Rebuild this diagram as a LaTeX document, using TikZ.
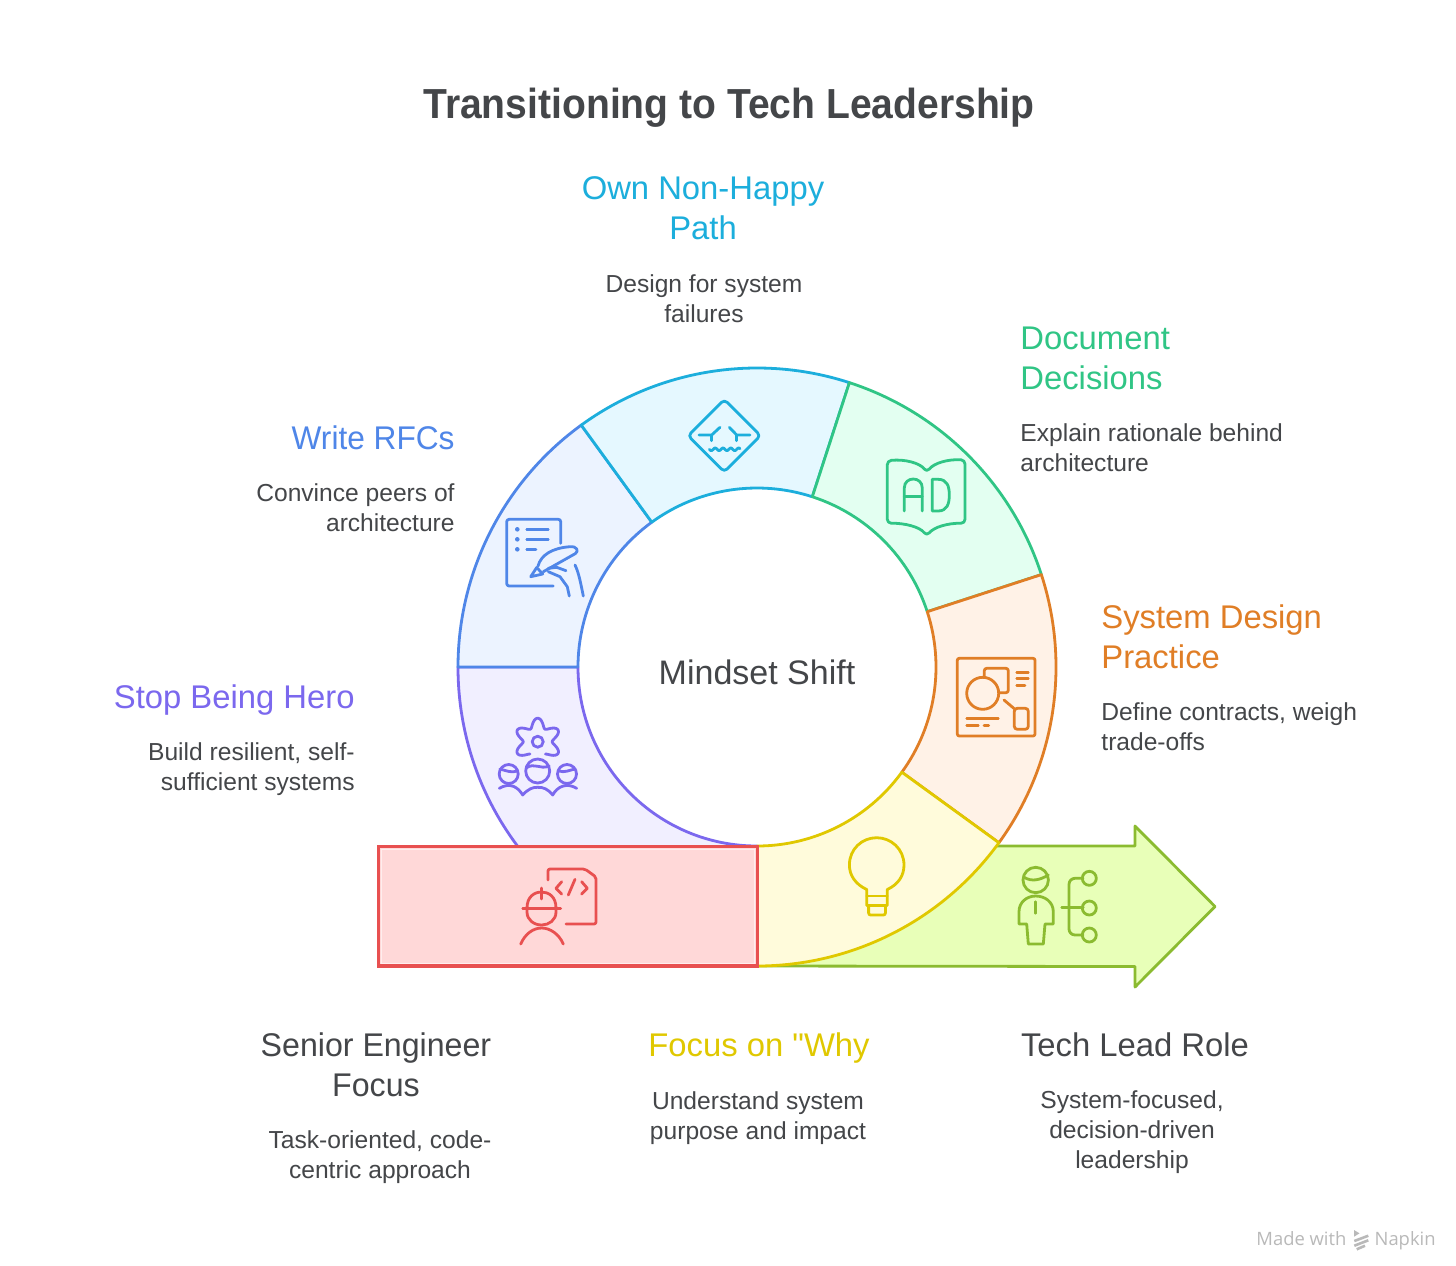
\documentclass[tikz,border=0pt]{standalone}
\usepackage{fontspec}
\setmainfont{Liberation Sans}
\newfontfamily\markfont{Open Sans}
\newfontfamily\qfont{Liberation Sans}
\newfontfamily\titlefam[FakeStretch=0.93]{Liberation Sans}
\newfontfamily\narrowfam[FakeStretch=0.965]{Liberation Sans}
\newfontfamily\slimfam[FakeStretch=0.98]{Liberation Sans}
\definecolor{inkgrey}{HTML}{444649}
\definecolor{markgrey}{HTML}{B9B9B9}
\definecolor{herolin}{HTML}{7B68EE}\definecolor{herofil}{HTML}{F1EFFF}
\definecolor{rfclin}{HTML}{4F86E8}\definecolor{rfcfil}{HTML}{ECF3FF}
\definecolor{ownlin}{HTML}{1CAEDC}\definecolor{ownfil}{HTML}{E5F8FF}
\definecolor{doclin}{HTML}{30C585}\definecolor{docfil}{HTML}{E3FFF1}
\definecolor{syslin}{HTML}{E07E26}\definecolor{sysfil}{HTML}{FFF2E7}
\definecolor{whylin}{HTML}{E0C800}\definecolor{whyfil}{HTML}{FFFBDB}
\definecolor{redlin}{HTML}{E85050}\definecolor{redfil}{HTML}{FFD8D8}
\definecolor{grnlin}{HTML}{8BBB30}\definecolor{grnfil}{HTML}{E8FFB8}
\newcommand\ringseg[4]{\filldraw[draw=#3,fill=#4,ringline]
  ({757+299*cos(#1)},{667-299*sin(#1)}) arc[start angle=#1,end angle=#2,radius=149.5pt]
  -- ({757+179*cos(#2)},{667-179*sin(#2)}) arc[start angle=#2,end angle=#1,radius=89.5pt] -- cycle;}
\tikzset{
  ringline/.style={line width=1.4pt,line join=round},
  iconline/.style={line width=1.4pt,line cap=round,line join=round},
  headtxt/.style={inner sep=0pt,font=\fontsize{16.4}{20}\selectfont},
  bodytxt/.style={inner sep=0pt,text=inkgrey,font=\fontsize{12.3}{15}\selectfont},
}
\begin{document}
\begin{tikzpicture}[x=0.5pt,y=-0.5pt]
\useasboundingbox (0,0) rectangle (1456,1265);
\fill[white] (0,0) rectangle (1456,1265);
% arrow
\filldraw[draw=grnlin,fill=grnfil,ringline] (757,966) -- (990,846) -- (1135,846) -- (1135,826) -- (1215,906.5) -- (1135,987) -- (1135,966.5) -- cycle;
% ring
\ringseg{180}{270}{herolin}{herofil}
\ringseg{126}{180}{rfclin}{rfcfil}
\ringseg{72}{126}{ownlin}{ownfil}
\ringseg{18}{72}{doclin}{docfil}
\ringseg{-36}{18}{syslin}{sysfil}
\ringseg{-90}{-36}{whylin}{whyfil}
% red box
\filldraw[draw=redlin,fill=redfil,line width=1.8pt] (378.5,846.5) rectangle (757.5,966);
\draw[draw=white,opacity=.55,line width=.4pt] (381.5,849.5) rectangle (754.5,963);
% hero icon
\begin{scope}[herolin,iconline]
\draw plot[domain=-58:238,samples=90,smooth] ({537.7+(19+4.5*cos(6*(\x-90)))*cos(\x)},{741.7-(19+4.5*cos(6*(\x-90)))*sin(\x)});
\draw (537.7,741.7) circle[radius=5.5];
\draw (537.7,771) circle[radius=12];
\draw (508.7,774) circle[radius=9.5];
\draw (567,774) circle[radius=9.5];
\draw (526,768) .. controls (535,762) and (540,770) .. (549,766);
\draw (500,769) .. controls (507,771) and (512,773) .. (517,771);
\draw (559,771) .. controls (564,773) and (570,770) .. (575,769);
\draw (499.3,788.3) .. controls (510,782) and (518,787) .. (522.7,795) .. controls (528,789) and (533,787) .. (537.7,787.3) .. controls (543,787) and (548,789) .. (552.7,795) .. controls (557,787) and (566,782) .. (576.7,788.3);
\end{scope}
% red icon
\begin{scope}[redlin,iconline]
\draw[rounded corners=1pt] (548,880) -- (548,869) -- (585,869) -- (596,877) -- (596,924) -- (566,924);
\draw (561.7,881.7) -- (556,888.3) -- (561.7,894);
\draw (575,879.3) -- (568.3,895);
\draw (581.7,881.7) -- (587.3,888.3) -- (581.7,894);
\draw (527,908) .. controls (527,897) and (534,892) .. (541.7,892) .. controls (549,892) and (556,897) .. (556,908) -- (556,912) .. controls (556,920) and (549,925) .. (541.7,925) .. controls (534,925) and (527,920) .. (527,912) -- cycle;
\draw (522.7,908.3) -- (560.7,908.3);
\draw (541.7,888) -- (541.7,899);
\draw (520.7,944) .. controls (525,934) and (533,928) .. (541.7,928) .. controls (550,928) and (559,934) .. (563.3,944);
\end{scope}
% rfc icon
\begin{scope}[rfclin,iconline]
\draw[rounded corners=1.2pt] (553.3,586) -- (506.7,586) -- (506.7,519.3) -- (560.7,519.3) -- (560.7,543.3);
\foreach \yy in {529.3,539.3,549.3}{\fill (517.3,\yy) circle[radius=2.3];}
\draw (526.7,529.3) -- (548.3,529.3);
\draw (526.7,539.3) -- (548.3,539.3);
\draw (526.7,549.3) -- (536,549.3);
\draw (530.7,576.7) -- (536.7,567.5) -- (542.7,574) -- cycle;
\draw (538,566) .. controls (541,555) and (552,548) .. (570,546.7) .. controls (577,546) and (579,551) .. (575.5,553.5) -- (543.3,571.7);
\draw (548.3,568.3) -- (556.7,567.3) -- (566,570.7);
\draw (548.3,571.7) -- (560,576.7) -- (567.3,586.7) -- (569.3,596);
\draw (575,565) .. controls (579,573) and (581,585) .. (583.3,596);
\end{scope}
% own icon
\begin{scope}[ownlin,iconline]
\draw[rounded corners=2pt] (724.3,399.5) -- (760.5,435.7) -- (724.3,471.9) -- (688.1,435.7) -- cycle;
\draw (699,435) -- (711.7,435) -- (720,427.3);
\draw (711.7,435) -- (711.7,440.7);
\draw (750,435) -- (736.7,435) -- (729.3,427.3);
\draw (736.7,435) -- (736.7,440.7);
\draw plot[domain=709.3:740,samples=50,smooth] (\x,{449.3+1.3*sin(46*(\x-709.3))});
\end{scope}
% doc icon
\begin{scope}[doclin,iconline]
\draw[rounded corners=2pt] (887.3,460.7) .. controls (905,459) and (920,463) .. (926.7,472.3) .. controls (934,463) and (948,459) .. (965,460) -- (965,523.3) .. controls (948,523) and (934,527) .. (926.7,536) .. controls (920,527) and (905,523) .. (887.3,523.3) -- cycle;
\draw (904.3,511) -- (904.3,488) .. controls (904.3,476) and (922.3,476) .. (922.3,488) -- (922.3,511);
\draw (904.3,496.7) -- (922.3,496.7);
\draw (932.3,479.3) -- (932.3,511) -- (938,511) .. controls (947,511) and (949.3,504) .. (949.3,495) .. controls (949.3,486) and (947,479.3) .. (938,479.3) -- cycle;
\end{scope}
% sys icon
\begin{scope}[syslin,iconline]
\draw[rounded corners=1pt] (957.3,658.3) rectangle (1035,736);
\draw (982.7,693.3) circle[radius=16];
\draw[rounded corners=1.2pt] (984.3,677) -- (984.3,668.3) -- (1008.3,668.3) -- (1008.3,692.7) -- (999,692.7);
\draw (1016.7,672.3) -- (1028.3,672.3);
\draw (1016.7,678.7) -- (1028.3,678.7);
\draw (1016.7,685.3) -- (1025,685.3);
\draw (1004,700) -- (1015,709.3);
\draw[rounded corners=1.5pt] (1014.3,708.3) rectangle (1028.3,729.3);
\draw (966.7,718.7) -- (998.3,718.7);
\draw (966.7,725.3) -- (978.3,725.3);
\draw (984,725.3) -- (988.7,725.3);
\end{scope}
% why icon
\begin{scope}[whylin,iconline]
\draw (866.7,905.5) -- (866.7,889.5) .. controls (855,884) and (849.4,875) .. (849.4,865) .. controls (849.4,849) and (862,837.7) .. (876.7,837.7) .. controls (891,837.7) and (904,849) .. (904,865) .. controls (904,875) and (899,884) .. (887.3,889.5) -- (887.3,905.5) -- cycle;
\draw (866.7,896) -- (887.3,896);
\draw[rounded corners=1pt] (868.6,905.5) -- (868.6,915) -- (885.4,915) -- (885.4,905.5);
\end{scope}
% lead icon
\begin{scope}[grnlin,iconline]
\draw (1035.7,880) circle[radius=12.7];
\draw (1024,877.3) .. controls (1032,882) and (1040,880) .. (1048.3,875);
\draw (1019,924) -- (1019,911.7) .. controls (1019,902) and (1027,896) .. (1035.7,896) .. controls (1045,896) and (1053.3,902) .. (1053.3,911.7) -- (1053.3,924) -- (1045,924) -- (1043.3,944) -- (1028.3,944) -- (1026.7,924) -- cycle;
\draw (1035.7,901.7) -- (1035.7,913.3);
\draw (1061.7,907.7) -- (1083.3,907.7);
\draw[rounded corners=3pt] (1083,878.3) -- (1069,878.3) -- (1069,935) -- (1083,935);
\draw (1089.3,878.3) circle[radius=7];
\draw (1089.3,908) circle[radius=7];
\draw (1089.3,935) circle[radius=7];
\end{scope}
% texts
\node[inner sep=0pt,text=inkgrey,font=\titlefam\fontsize{21}{25}\selectfont\bfseries] (title) at (729,108) {Transitioning to Tech Leadership};
\node[headtxt,text=ownlin,align=center] (ownh) at (703,208) {Own Non-Happy\\Path};
\node[bodytxt,align=center] (ownb) at (704,299) {Design for system\\failures};
\node[headtxt,text=doclin,align=left,anchor=west] (doch) at (1020,358) {Document\\Decisions};
\node[bodytxt,align=left,anchor=west] (docb) at (1020,448) {Explain rationale behind\\architecture};
\node[headtxt,text=rfclin,anchor=east,font=\narrowfam\fontsize{16.4}{20}\selectfont] (rfch) at (455,438) {Write RFCs};
\node[bodytxt,align=right,anchor=east] (rfcb) at (455,508) {Convince peers of\\architecture};
\node[headtxt,text=herolin,anchor=east] (heroh) at (355,700) {Stop Being Hero};
\node[bodytxt,align=right,anchor=east] (herob) at (355,769) {Build resilient, self-\\sufficient systems};
\node[headtxt,text=syslin,align=left,anchor=west] (sysh) at (1101,637) {System Design\\Practice};
\node[bodytxt,align=left,anchor=west] (sysb) at (1101,727) {Define contracts, weigh\\trade-offs};
\node[headtxt,text=inkgrey,align=center,font=\slimfam\fontsize{16.4}{20}\selectfont] (senh) at (376,1065) {Senior Engineer\\Focus};
\node[bodytxt,align=center] (senb) at (380,1157) {Task-oriented, code-\\centric approach};
\node[headtxt,text=whylin] (whyh) at (759,1048) {Focus on {\qfont"}Why};
\node[bodytxt,align=center] (whyb) at (758,1118) {Understand system\\purpose and impact};
\node[headtxt,text=inkgrey] (leadh) at (1135,1045) {Tech Lead Role};
\node[bodytxt,align=center] (leadb) at (1132,1132) {System-focused,\\decision-driven\\leadership};
\node[inner sep=0pt,text=inkgrey,font=\fontsize{17}{20}\selectfont] (mind) at (757,672) {Mindset Shift};
% watermark
\node[inner sep=0pt,anchor=base west,text=markgrey,font=\markfont\fontsize{9.2}{10}\selectfont] (made) at (1256,1245) {Made with};
\node[inner sep=0pt,anchor=base east,text=markgrey,font=\markfont\fontsize{9.2}{10}\selectfont] (napkin) at (1436,1245) {Napkin};
\fill[markgrey] (1354,1230) -- (1359.5,1233.3) -- (1354,1236.7) -- cycle;
\draw[markgrey,line width=1.3pt] (1354.3,1241) -- (1368.3,1235.7);
\draw[markgrey,line width=1.3pt] (1354.3,1245.7) -- (1368.3,1240.3);
\draw[markgrey,line width=1.3pt] (1356.7,1249.3) -- (1365,1245.7);
\end{tikzpicture}
\end{document}
